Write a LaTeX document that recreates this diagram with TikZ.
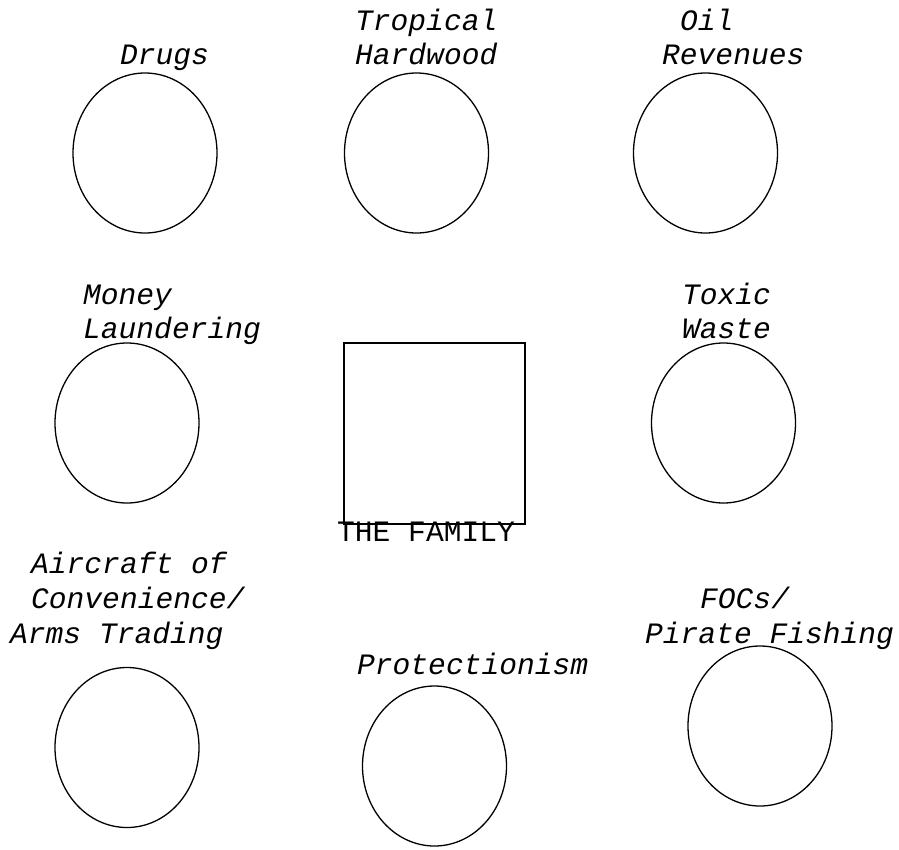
\documentclass[tikz,border=0pt]{standalone}
\usepackage{fontspec}
\setmonofont{Liberation Mono}
\usetikzlibrary{shapes.geometric}
\begin{document}
\begin{tikzpicture}[x=1pt,y=-1pt,
  blob/.style={draw,line width=1.3pt,ellipse,minimum width=144pt,minimum height=160pt,inner sep=0pt},
  lbl/.style={anchor=base west,inner sep=0pt,font=\fontsize{29.6}{34}\selectfont\ttfamily\itshape},
  ulbl/.style={anchor=base west,inner sep=0pt,font=\fontsize{29.6}{34}\selectfont\ttfamily}]
\useasboundingbox (0,0) rectangle (899,849);
\node[blob] (drugs) at (145,153) {};
\node[blob] (wood) at (416.5,153) {};
\node[blob] (oil) at (705.5,153) {};
\node[blob] (money) at (127,423) {};
\node[blob] (toxic) at (723.5,423) {};
\node[blob] (air) at (127,747.5) {};
\node[blob] (prot) at (434.5,766) {};
\node[blob] (focs) at (760,726) {};
\node[draw,line width=1.3pt,minimum width=181pt,minimum height=181pt,inner sep=0pt] (fam) at (434.5,433.5) {};
\node[lbl] (t1) at (120,64) {Drugs};
\node[lbl] (t2) at (355,30) {Tropical};
\node[lbl] (t3) at (355,64) {Hardwood};
\node[lbl] (t4) at (680,30) {Oil};
\node[lbl] (t5) at (662,64) {Revenues};
\node[lbl] (t6) at (83,304) {Money};
\node[lbl] (t7) at (83,338) {Laundering};
\node[lbl] (t8) at (682,304) {Toxic};
\node[lbl] (t9) at (682,338) {Waste};
\node[ulbl] (t10) at (337,541) {THE FAMILY};
\node[lbl] (t11) at (31,573) {Aircraft of};
\node[lbl] (t12) at (31,608) {Convenience/};
\node[lbl] (t13) at (10,643) {Arms Trading};
\node[lbl] (t14) at (700,608) {FOCs/};
\node[lbl] (t15) at (645,643) {Pirate Fishing};
\node[lbl] (t16) at (357,674) {Protectionism};
\end{tikzpicture}
\end{document}
